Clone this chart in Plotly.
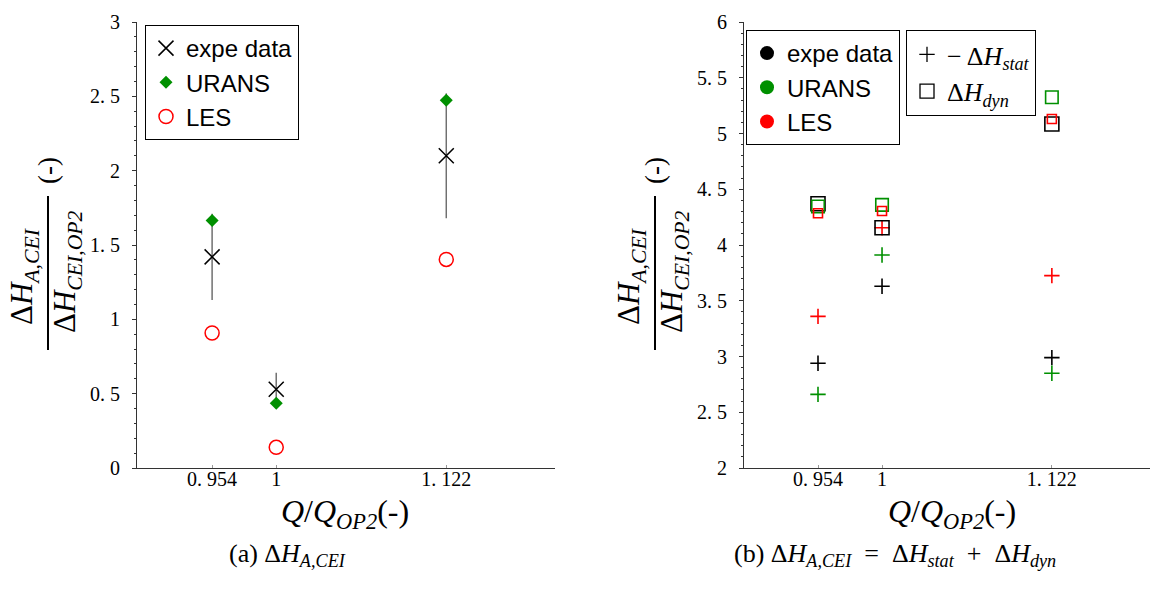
import plotly.graph_objects as go

# ---------------- data ----------------
q = [0.954, 1.0, 1.122]
q_tickvals = [0.954, 1.0, 1.122]
q_ticktext = ["0. 954", "1", "1. 122"]

# panel (a)
expe_a = [1.42, 0.53, 2.10]
expe_a_err = [0.29, 0.11, 0.42]
urans_a = [1.665, 0.435, 2.473]
les_a = [0.908, 0.139, 1.403]
ya_tickvals = [0, 0.5, 1, 1.5, 2, 2.5, 3]
ya_ticktext = ["0", "0. 5", "1", "1. 5", "2", "2. 5", "3"]

# panel (b)
expe_stat = [2.94, 3.63, 2.99]
urans_stat = [2.66, 3.91, 2.85]
les_stat = [3.36, 4.155, 3.725]
expe_dyn = [4.37, 4.155, 5.085]
urans_dyn = [4.345, 4.36, 5.325]
les_dyn = [4.285, 4.305, 5.13]
yb_tickvals = [2, 2.5, 3, 3.5, 4, 4.5, 5, 5.5, 6]
yb_ticktext = ["2", "2. 5", "3", "3. 5", "4", "4. 5", "5", "5. 5", "6"]

# ---------------- style ----------------
W, H = 1150, 592
BLACK = "#000000"
GREEN = "#009000"
RED = "#ff0000"
SERIF = "Liberation Serif"
SANS = "Liberation Sans"


def px(x):
    return x / W


def py(y):
    return 1 - y / H


fig = go.Figure()

# ---- panel (a) ----
fig.add_trace(go.Scatter(
    x=q, y=expe_a, mode="markers", name="expe data",
    marker=dict(symbol="x-thin-open", size=15, color=BLACK,
                line=dict(color=BLACK, width=1.5)),
    error_y=dict(type="data", array=expe_a_err, color="#707070",
                 thickness=1.5, width=0),
    xaxis="x", yaxis="y", legend="legend", legendgroup="a1",
))
fig.add_trace(go.Scatter(
    x=q, y=urans_a, mode="markers", name="URANS",
    marker=dict(symbol="diamond", size=10, color=GREEN),
    xaxis="x", yaxis="y", legend="legend", legendgroup="a2",
))
fig.add_trace(go.Scatter(
    x=q, y=les_a, mode="markers", name="LES",
    marker=dict(symbol="circle-open", size=14, color=RED,
                line=dict(color=RED, width=1.5)),
    xaxis="x", yaxis="y", legend="legend", legendgroup="a3",
))

# ---- panel (b) ----
series_b = [
    (expe_stat, BLACK, "cross-thin-open", 11),
    (urans_stat, GREEN, "cross-thin-open", 11),
    (les_stat, RED, "cross-thin-open", 11),
    (expe_dyn, BLACK, "square-open", 14),
    (urans_dyn, GREEN, "square-open", 12.5),
    (les_dyn, RED, "square-open", 9),
]
for vals, col, sym, sz in series_b:
    fig.add_trace(go.Scatter(
        x=q, y=vals, mode="markers", showlegend=False,
        marker=dict(symbol=sym, size=sz, color=col,
                    line=dict(color=col, width=1.6)),
        xaxis="x2", yaxis="y2",
    ))

# legend keys for panel (b)
for i, (name, col) in enumerate([("expe data", BLACK), ("URANS", GREEN), ("LES", RED)]):
    fig.add_trace(go.Scatter(
        x=[None], y=[None], mode="markers", name=name,
        marker=dict(symbol="circle", size=14, color=col),
        xaxis="x2", yaxis="y2", legend="legend2", legendgroup=f"b{i}",
    ))
fig.add_trace(go.Scatter(
    x=[None], y=[None], mode="markers",
    name="\u2212\u2009Δ<i>H</i><sub><i>stat</i></sub>",
    marker=dict(symbol="cross-thin-open", size=11, color=BLACK,
                line=dict(color=BLACK, width=1.3)),
    xaxis="x2", yaxis="y2", legend="legend3", legendgroup="c1",
))
fig.add_trace(go.Scatter(
    x=[None], y=[None], mode="markers",
    name="Δ<i>H</i><sub><i>dyn</i></sub>",
    marker=dict(symbol="square-open", size=14, color=BLACK,
                line=dict(color=BLACK, width=1.3)),
    xaxis="x2", yaxis="y2", legend="legend3", legendgroup="c2",
))

# ---------------- axes ----------------
xax_common = dict(
    tickvals=q_tickvals, ticktext=q_ticktext, automargin=False,
    showgrid=False, zeroline=False, showline=True, linecolor="#333333",
    linewidth=1.2, ticks="inside", ticklen=3, tickcolor="#999999",
    ticklabelstandoff=-7,
    tickfont=dict(family=SERIF, size=20, color=BLACK),
)
yax_common = dict(
    showgrid=False, zeroline=False, showline=True, linecolor="#333333",
    linewidth=1.2, ticks="outside", ticklen=4, tickcolor="#333333",
    automargin=False, ticklabelstandoff=8,
    tickfont=dict(family=SERIF, size=20, color=BLACK),
    minor=dict(dtick=0.1, ticks="outside", ticklen=2, tickcolor="#333333"),
)

ydom = [py(468), py(22)]
fig.update_layout(
    xaxis=dict(domain=[px(132), px(555)], range=[0.954 - (212 - 132) / 1392.0, 1.2],
               anchor="y", **xax_common),
    yaxis=dict(domain=ydom, range=[0, 3], anchor="free", position=px(136),
               tickvals=ya_tickvals, ticktext=ya_ticktext, **yax_common),
    xaxis2=dict(domain=[px(739), 1.0],
                range=[0.954 - (818 - 739) / 1392.0, 0.954 + (W - 818) / 1392.0],
                anchor="y2", **xax_common),
    yaxis2=dict(domain=ydom, range=[2, 6], anchor="free", position=px(743),
                tickvals=yb_tickvals, ticktext=yb_ticktext, **yax_common),
)

legend_common = dict(
    bgcolor="white", bordercolor=BLACK, borderwidth=1,
    xanchor="left", yanchor="top", traceorder="grouped",
    tracegroupgap=0, itemsizing="trace",
)
fig.update_layout(
    legend=dict(x=px(145), y=py(25), font=dict(family=SANS, size=24, color=BLACK),
                **legend_common),
    legend2=dict(x=px(746), y=py(30), font=dict(family=SANS, size=24, color=BLACK),
                 **legend_common),
    legend3=dict(x=px(906), y=py(30), font=dict(family=SERIF, size=26, color=BLACK),
                 **legend_common),
)

# ---------------- text ----------------
annotations = []
shapes = []
for off in (0, 607):
    # y-axis fraction label
    annotations.append(dict(
        text="Δ<i>H</i><sub><i>A,CEI</i></sub>", textangle=-90,
        x=px(24 + off), y=py(276), xref="paper", yref="paper",
        xanchor="center", yanchor="middle", showarrow=False,
        font=dict(family=SERIF, size=31, color=BLACK),
    ))
    annotations.append(dict(
        text="Δ<i>H</i><sub><i>CEI,OP2</i></sub>", textangle=-90,
        x=px(67 + off), y=py(272), xref="paper", yref="paper",
        xanchor="center", yanchor="middle", showarrow=False,
        font=dict(family=SERIF, size=31, color=BLACK),
    ))
    annotations.append(dict(
        text="(-)", textangle=-90,
        x=px(48 + off), y=py(171), xref="paper", yref="paper",
        xanchor="center", yanchor="middle", showarrow=False,
        font=dict(family=SERIF, size=27, color=BLACK),
    ))
    shapes.append(dict(
        type="line", xref="paper", yref="paper",
        x0=px(48 + off), x1=px(48 + off), y0=py(196), y1=py(350),
        line=dict(color=BLACK, width=2),
    ))
    # x-axis title
    annotations.append(dict(
        text="<i>Q</i>/<i>Q</i><sub><i>OP2</i></sub>(-)",
        x=px(345 + off), y=py(513), xref="paper", yref="paper",
        xanchor="center", yanchor="middle", showarrow=False,
        font=dict(family=SERIF, size=32, color=BLACK),
    ))

annotations.append(dict(
    text="(a) Δ<i>H</i><sub><i>A,CEI</i></sub>",
    x=px(287), y=py(555), xref="paper", yref="paper",
    xanchor="center", yanchor="middle", showarrow=False,
    font=dict(family=SERIF, size=26, color=BLACK),
))
annotations.append(dict(
    text="(b) Δ<i>H</i><sub><i>A,CEI</i></sub>\u2002=\u2002Δ<i>H</i><sub><i>stat</i></sub>\u2002+\u2002Δ<i>H</i><sub><i>dyn</i></sub>",
    x=px(895), y=py(555), xref="paper", yref="paper",
    xanchor="center", yanchor="middle", showarrow=False,
    font=dict(family=SERIF, size=26, color=BLACK),
))

fig.update_layout(
    width=W, height=H, autosize=False,
    margin=dict(l=0, r=0, t=0, b=0, pad=0),
    paper_bgcolor="white", plot_bgcolor="white",
    annotations=annotations, shapes=shapes,
)

fig.write_html("out.html", config={"displayModeBar": False},
               post_script="document.body.style.margin='0px';")
